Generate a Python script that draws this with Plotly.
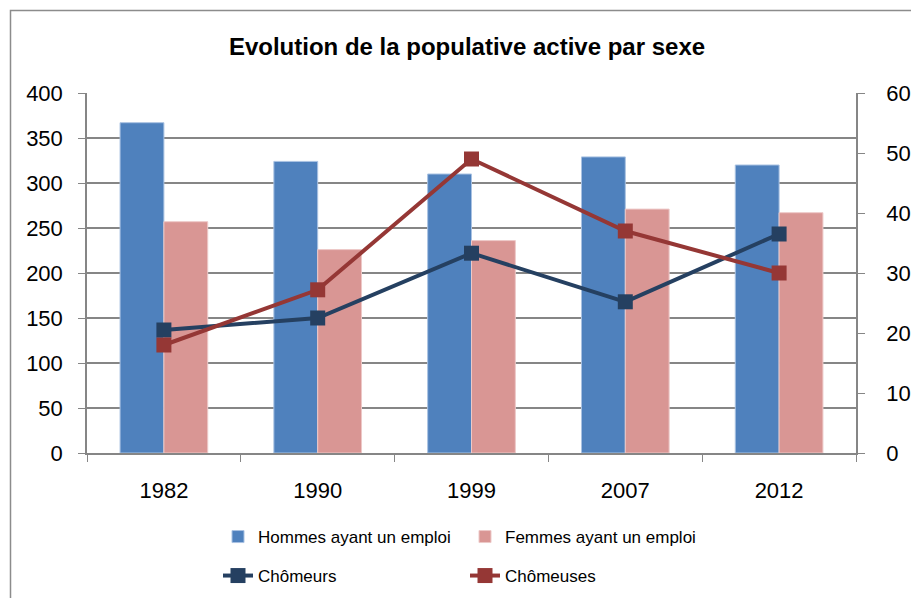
import plotly.graph_objects as go

years = ["1982", "1990", "1999", "2007", "2012"]
hommes = [367, 324, 310, 329, 320]
femmes = [257, 226, 236, 271, 267]
chomeurs = [20.5, 22.5, 33.3, 25.2, 36.5]
chomeuses = [18.0, 27.2, 49.0, 37.0, 30.0]

title = "Evolution de la populative active par sexe"
names = ["Hommes ayant un emploi", "Femmes ayant un emploi", "Chômeurs", "Chômeuses"]

FONT = "Liberation Sans"
W, H = 911, 598
ML, MR, MT, MB = 87, 55, 93, 145
pw, ph = W - ML - MR, H - MT - MB

fig = go.Figure()
fig.add_trace(go.Bar(x=years, y=hommes, name=names[0],
                     marker=dict(color="#4F81BD", line=dict(color="#A9C2E2", width=1)), legend="legend"))
fig.add_trace(go.Bar(x=years, y=femmes, name=names[1],
                     marker=dict(color="#D99694", line=dict(color="#EDC9C8", width=1)), legend="legend"))
fig.add_trace(go.Scatter(x=years, y=chomeurs, name=names[2], yaxis="y2", mode="lines+markers",
                         line=dict(color="#254061", width=4),
                         marker=dict(symbol="square", size=15, color="#254061"), legend="legend2"))
fig.add_trace(go.Scatter(x=years, y=chomeuses, name=names[3], yaxis="y2", mode="lines+markers",
                         line=dict(color="#953735", width=4),
                         marker=dict(symbol="square", size=15, color="#953735"), legend="legend2"))

grey = "#868686"
def px_x(x):
    return (x - ML) / pw
def px_y(y):
    return (H - MB - y) / ph

fig.update_layout(
    width=W, height=H,
    margin=dict(l=ML, r=MR, t=MT, b=MB, autoexpand=False),
    paper_bgcolor="white", plot_bgcolor="white",
    font=dict(family=FONT, size=22, color="black"),
    title=dict(text="<b>" + title + "</b>", x=467 / W, xanchor="center", y=1 - 47 / H, yanchor="middle",
               font=dict(family=FONT, size=24, color="black")),
    barmode="group", bargap=0.43, bargroupgap=0,
    xaxis=dict(type="category", showline=True, linecolor=grey, linewidth=1.5,
               ticks="outside", tickson="boundaries", ticklen=7, tickcolor=grey,
               ticklabelstandoff=17, showgrid=False, automargin=False),
    yaxis=dict(range=[0, 400], dtick=50, showline=True, linecolor=grey, linewidth=1.5,
               ticks="outside", ticklen=7, tickcolor=grey, ticklabelstandoff=11,
               showgrid=True, gridcolor=grey, gridwidth=1.5, zeroline=False, automargin=False),
    yaxis2=dict(range=[0, 60], dtick=10, overlaying="y", side="right", showline=True,
                linecolor=grey, linewidth=1.5, ticks="outside", ticklen=7, tickcolor=grey,
                ticklabelstandoff=17, showgrid=False, zeroline=False, automargin=False),
    legend=dict(orientation="h", x=px_x(218), xanchor="left", y=px_y(537), yanchor="middle",
                entrywidth=202, font=dict(family=FONT, size=17), bgcolor="rgba(0,0,0,0)"),
    legend2=dict(orientation="h", x=px_x(218), xanchor="left", y=px_y(576), yanchor="middle",
                 entrywidth=202, font=dict(family=FONT, size=17), bgcolor="rgba(0,0,0,0)"),
    shapes=[dict(type="rect", xref="paper", yref="paper",
                 x0=px_x(10.5), x1=px_x(W + 20), y0=px_y(H + 20), y1=px_y(10.5),
                 line=dict(color="#8c8c8c", width=1.5), layer="below")],
)

fig.write_html("out.html", config={"displayModeBar": False},
               post_script="document.body.style.margin='0';document.body.style.overflow='hidden';")
